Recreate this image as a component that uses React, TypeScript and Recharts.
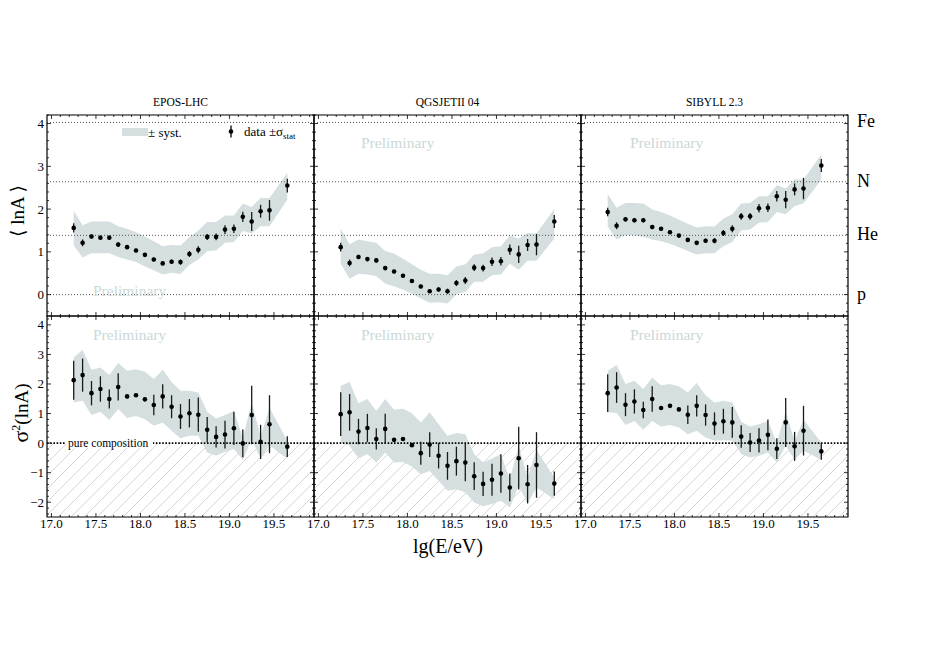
import React from "react";
import {
  ComposedChart,
  Area,
  Scatter,
  ErrorBar,
  XAxis,
  YAxis,
  ReferenceLine,
  ReferenceArea,
} from "recharts";

const FONT = "'Liberation Serif', 'DejaVu Serif', 'Times New Roman', serif";
const BAND = "#d5dfdf";
const PRELIM = "#cbd8d8";

// bin centres, lg(E/eV)
const energy = [
  17.25, 17.35, 17.45, 17.55, 17.65, 17.75, 17.85, 17.95, 18.05, 18.15, 18.25, 18.35,
  18.45, 18.55, 18.65, 18.75, 18.85, 18.95, 19.05, 19.15, 19.25, 19.35, 19.45, 19.65,
];

const models = ["EPOS-LHC", "QGSJETII 04", "SIBYLL 2.3"];

// <lnA>
const eposLnA = [1.56, 1.21, 1.36, 1.33, 1.33, 1.17, 1.11, 1.03, 0.93, 0.82, 0.73, 0.77, 0.76, 0.95, 1.05, 1.35, 1.35, 1.52, 1.54, 1.82, 1.71, 1.95, 1.97, 2.55];
const eposLnAStat = [0.11, 0.08, 0.05, 0.05, 0.05, 0.05, 0.04, 0.04, 0.04, 0.04, 0.04, 0.05, 0.06, 0.07, 0.08, 0.07, 0.08, 0.1, 0.1, 0.12, 0.22, 0.15, 0.24, 0.16];
const eposLnALo = [1.15, 0.87, 0.97, 0.97, 0.97, 0.88, 0.82, 0.76, 0.66, 0.57, 0.47, 0.51, 0.48, 0.69, 0.82, 1.02, 1.03, 1.21, 1.23, 1.49, 1.43, 1.6, 1.6, 2.22];
const eposLnAHi = [1.96, 1.62, 1.71, 1.71, 1.71, 1.6, 1.54, 1.46, 1.36, 1.25, 1.13, 1.16, 1.15, 1.35, 1.5, 1.7, 1.7, 1.85, 1.85, 2.13, 2.05, 2.26, 2.26, 2.85];

const qgsLnA = [1.11, 0.74, 0.88, 0.83, 0.8, 0.62, 0.54, 0.44, 0.32, 0.19, 0.08, 0.12, 0.08, 0.27, 0.33, 0.63, 0.62, 0.77, 0.78, 1.05, 0.94, 1.16, 1.17, 1.71];
const qgsLnAStat = [0.1, 0.08, 0.05, 0.05, 0.05, 0.05, 0.04, 0.04, 0.04, 0.04, 0.04, 0.05, 0.06, 0.07, 0.08, 0.08, 0.08, 0.1, 0.1, 0.12, 0.2, 0.14, 0.25, 0.15];
const qgsLnALo = [0.72, 0.37, 0.49, 0.47, 0.43, 0.26, 0.19, 0.12, 0.02, -0.09, -0.19, -0.18, -0.21, 0.01, 0.06, 0.3, 0.3, 0.45, 0.47, 0.72, 0.58, 0.79, 0.79, 1.31];
const qgsLnAHi = [1.54, 1.18, 1.29, 1.25, 1.21, 1.02, 0.96, 0.84, 0.71, 0.58, 0.49, 0.49, 0.45, 0.66, 0.71, 0.94, 0.96, 1.11, 1.13, 1.38, 1.31, 1.44, 1.43, 2.0];

const sibLnA = [1.93, 1.61, 1.76, 1.74, 1.74, 1.58, 1.54, 1.46, 1.38, 1.28, 1.21, 1.26, 1.26, 1.44, 1.54, 1.83, 1.83, 2.02, 2.03, 2.3, 2.22, 2.46, 2.48, 3.02];
const sibLnAStat = [0.1, 0.08, 0.05, 0.05, 0.05, 0.05, 0.04, 0.04, 0.04, 0.04, 0.04, 0.05, 0.06, 0.07, 0.08, 0.08, 0.08, 0.1, 0.1, 0.12, 0.2, 0.14, 0.25, 0.15];
const sibLnALo = [1.6, 1.29, 1.39, 1.39, 1.35, 1.29, 1.25, 1.19, 1.11, 1.02, 0.94, 0.97, 0.97, 1.13, 1.23, 1.5, 1.52, 1.68, 1.7, 1.93, 1.88, 2.07, 2.13, 2.69];
const sibLnAHi = [2.35, 2.03, 2.14, 2.14, 2.13, 1.99, 1.93, 1.85, 1.75, 1.66, 1.57, 1.6, 1.59, 1.78, 1.88, 2.13, 2.14, 2.3, 2.3, 2.56, 2.48, 2.69, 2.69, 3.28];

// sigma^2(lnA)
const eposVar = [2.13, 2.3, 1.69, 1.83, 1.49, 1.9, 1.58, 1.62, 1.48, 1.29, 1.58, 1.23, 0.9, 1.01, 0.96, 0.45, 0.21, 0.29, 0.5, -0.01, 0.95, 0.04, 0.64, -0.12];
const eposVarStat = [0.66, 0.56, 0.41, 0.43, 0.32, 0.46, 0.06, 0.06, 0.06, 0.35, 0.41, 0.39, 0.42, 0.48, 0.58, 0.43, 0.36, 0.47, 0.56, 0.47, 0.99, 0.58, 0.98, 0.35];
const eposVarLo = [1.37, 1.43, 0.95, 1.06, 0.78, 1.15, 0.85, 0.92, 0.81, 0.59, 0.7, 0.42, 0.16, 0.25, 0.25, -0.32, -0.43, -0.29, -0.2, -0.57, 0.13, -0.52, -0.07, -0.54];
const eposVarHi = [2.9, 3.16, 2.48, 2.56, 2.3, 2.71, 2.45, 2.5, 2.41, 2.17, 2.48, 2.07, 1.77, 1.77, 1.71, 1.06, 0.83, 0.95, 1.09, 0.16, 1.37, 0.22, 1.2, 0.08];

const qgsVar = [0.98, 1.04, 0.39, 0.51, 0.14, 0.48, 0.11, 0.14, -0.07, -0.34, -0.05, -0.43, -0.77, -0.61, -0.66, -1.12, -1.38, -1.24, -1.03, -1.5, -0.51, -1.39, -0.74, -1.37];
const qgsVarStat = [0.74, 0.62, 0.43, 0.48, 0.36, 0.51, 0.06, 0.06, 0.06, 0.39, 0.42, 0.43, 0.47, 0.49, 0.63, 0.47, 0.41, 0.54, 0.65, 0.47, 1.06, 0.65, 1.11, 0.41];
const qgsVarLo = [0.02, -0.09, -0.52, -0.37, -0.66, -0.32, -0.66, -0.64, -0.79, -1.05, -0.94, -1.28, -1.61, -1.56, -1.67, -2.01, -2.14, -2.06, -1.95, -2.18, -1.44, -2.06, -1.5, -1.9];
const qgsVarHi = [1.94, 2.07, 1.35, 1.49, 1.09, 1.49, 1.13, 1.16, 1.01, 0.7, 1.04, 0.64, 0.25, 0.34, 0.3, -0.37, -0.66, -0.52, -0.37, -1.22, -0.09, -1.16, -0.23, -1.16];

const sibVar = [1.69, 1.88, 1.3, 1.41, 1.12, 1.49, 1.19, 1.26, 1.14, 0.96, 1.26, 0.95, 0.66, 0.74, 0.7, 0.22, 0.02, 0.09, 0.28, -0.19, 0.7, -0.11, 0.42, -0.28];
const sibVarStat = [0.64, 0.52, 0.39, 0.41, 0.28, 0.43, 0.06, 0.06, 0.06, 0.31, 0.36, 0.36, 0.38, 0.42, 0.52, 0.38, 0.32, 0.41, 0.52, 0.35, 0.83, 0.49, 0.84, 0.28];
const sibVarLo = [1.04, 1.02, 0.61, 0.75, 0.45, 0.75, 0.56, 0.61, 0.53, 0.3, 0.42, 0.19, 0.08, 0.1, 0.08, -0.37, -0.49, -0.43, -0.32, -0.66, -0.09, -0.56, -0.26, -0.56];
const sibVarHi = [2.45, 2.64, 2.0, 2.11, 1.83, 2.22, 1.96, 2.0, 1.92, 1.71, 2.03, 1.62, 1.37, 1.43, 1.37, 0.72, 0.56, 0.64, 0.75, 0.02, 1.06, 0.08, 0.79, 0.02];

// reference nuclei: lnA of p, He, N, Fe
const elementNames = ["p", "He", "N", "Fe"];
const elementLnA = [0, Math.log(4), Math.log(14), Math.log(56)];

const xMajorTicks = [17.0, 17.5, 18.0, 18.5, 19.0, 19.5];
const lnaMajorTicks = [0, 1, 2, 3, 4];
const varMajorTicks = [-2, -1, 0, 1, 2, 3, 4];

const X_DOMAIN: [number, number] = [16.95, 19.95];
const LNA_DOMAIN: [number, number] = [-0.5, 4.2];
const VAR_DOMAIN: [number, number] = [-2.5, 4.3];

function steps(from: number, to: number, step: number) {
  const out: number[] = [];
  for (let v = from; v <= to + 1e-9; v += step) out.push(Math.round(v * 10) / 10);
  return out;
}
const xTicks = steps(17.0, 19.9, 0.1);
const lnaTicks = steps(-0.4, 4.2, 0.2);
const varTicks = steps(-2.4, 4.2, 0.2);

const panels = [
  [
    { v: eposLnA, e: eposLnAStat, lo: eposLnALo, hi: eposLnAHi },
    { v: qgsLnA, e: qgsLnAStat, lo: qgsLnALo, hi: qgsLnAHi },
    { v: sibLnA, e: sibLnAStat, lo: sibLnALo, hi: sibLnAHi },
  ],
  [
    { v: eposVar, e: eposVarStat, lo: eposVarLo, hi: eposVarHi },
    { v: qgsVar, e: qgsVarStat, lo: qgsVarLo, hi: qgsVarHi },
    { v: sibVar, e: sibVarStat, lo: sibVarLo, hi: sibVarHi },
  ],
];

const PLOT_LEFT = [47, 314, 581];
const PLOT_TOP = [115, 316];
const PW = 267;
const PH = 201;
const ML = 40;
const MR = 44;
const MT = 8;
const MB = 22;

const txt = { fontFamily: FONT };
const near = (a: number, b: number) => Math.abs(a - b) < 1e-6;

function makeXTick(showLabels: boolean) {
  return (props: any) => {
    const { x, y, payload } = props;
    const v = payload.value;
    const major = xMajorTicks.some((t) => near(t, v));
    const len = major ? 4 : 2;
    return (
      <g>
        <line x1={x} x2={x} y1={y} y2={y - len} stroke="#000" strokeWidth={0.8} />
        <line x1={x} x2={x} y1={y - PH} y2={y - PH + len} stroke="#000" strokeWidth={0.8} />
        {showLabels && major && (
          <text x={x} y={y + 11} textAnchor="middle" fontSize={13} style={txt} fill="#000">
            {v.toFixed(1)}
          </text>
        )}
      </g>
    );
  };
}

function makeYTick(majors: number[], showLabels: boolean) {
  return (props: any) => {
    const { x, y, payload } = props;
    const v = payload.value;
    const major = majors.some((t) => near(t, v));
    const len = major ? 4 : 2;
    return (
      <g>
        <line x1={x} x2={x + len} y1={y} y2={y} stroke="#000" strokeWidth={0.8} />
        <line x1={x + PW} x2={x + PW - len} y1={y} y2={y} stroke="#000" strokeWidth={0.8} />
        {showLabels && major && (
          <text x={x - 3} y={y + 4.5} textAnchor="end" fontSize={13} style={txt} fill="#000">
            {v < 0 ? `\u2212${Math.abs(v)}` : v}
          </text>
        )}
      </g>
    );
  };
}

const elementTick = (props: any) => {
  const { x, y, payload } = props;
  const idx = elementLnA.findIndex((t) => near(t, payload.value));
  return (
    <text x={x + 9} y={y + 5} fontSize={18} style={txt} fill="#000">
      {elementNames[idx]}
    </text>
  );
};

const Dot = (props: any) => <circle cx={props.cx} cy={props.cy} r={2.3} fill="#000" />;

const PureLabel = (props: any) => {
  const vb = props.viewBox || {};
  const x = (vb.x ?? 0) + 19;
  const y = vb.y ?? 0;
  return (
    <g>
      <rect x={x} y={y - 5} width={87} height={10} fill="#fff" />
      <text x={x + 2} y={y + 3.5} fontSize={11.5} style={txt} fill="#000">
        pure composition
      </text>
    </g>
  );
};

function Panel({ row, col }: { row: number; col: number }) {
  const p = panels[row][col];
  const rows = energy.map((x, i) => ({ x, y: p.v[i], err: p.e[i], band: [p.lo[i], p.hi[i]] }));
  const yDomain = row === 0 ? LNA_DOMAIN : VAR_DOMAIN;
  const hatchId = `hatch-${col}`;
  const withElements = row === 0 && col === 2;
  return (
    <div style={{ position: "absolute", left: PLOT_LEFT[col] - ML, top: PLOT_TOP[row] - MT }}>
      <ComposedChart
        width={ML + PW + MR}
        height={MT + PH + MB}
        data={rows}
        margin={{ top: MT, right: withElements ? 0 : MR, bottom: 0, left: 0 }}
      >
        <defs>
          <pattern id={hatchId} patternUnits="userSpaceOnUse" width={13} height={13}>
            <path d="M0,13 L13,0 M-3,3 L3,-3 M10,16 L16,10" stroke="#c6c6c6" strokeWidth={0.7} />
          </pattern>
        </defs>
        <XAxis
          dataKey="x"
          type="number"
          domain={X_DOMAIN}
          ticks={xTicks}
          interval={0}
          height={MB}
          tickSize={0}
          tickMargin={0}
          axisLine={false}
          tickLine={false}
          tick={makeXTick(row === 1)}
          allowDataOverflow
        />
        <YAxis
          dataKey="y"
          type="number"
          domain={yDomain}
          ticks={row === 0 ? lnaTicks : varTicks}
          interval={0}
          width={ML}
          tickSize={0}
          tickMargin={0}
          axisLine={false}
          tickLine={false}
          tick={makeYTick(row === 0 ? lnaMajorTicks : varMajorTicks, col === 0)}
          allowDataOverflow
        />
        {withElements && (
          <YAxis
            yAxisId="el"
            orientation="right"
            type="number"
            domain={LNA_DOMAIN}
            ticks={elementLnA}
            interval={0}
            width={MR}
            tickSize={0}
            tickMargin={0}
            axisLine={false}
            tickLine={false}
            tick={elementTick}
            allowDataOverflow
          />
        )}
        {row === 1 && (
          <ReferenceArea
            x1={X_DOMAIN[0]}
            x2={X_DOMAIN[1]}
            y1={VAR_DOMAIN[0]}
            y2={0}
            fill={`url(#${hatchId})`}
            fillOpacity={1}
            stroke="none"
          />
        )}
        <Area
          dataKey="band"
          type="linear"
          stroke="none"
          fill={BAND}
          fillOpacity={1}
          isAnimationActive={false}
        />
        {row === 0 &&
          elementLnA.map((v) => (
            <ReferenceLine key={v} y={v} stroke="#444" strokeWidth={0.9} strokeDasharray="1 2" />
          ))}
        {row === 1 && (
          <ReferenceLine
            y={0}
            stroke="#000"
            strokeWidth={1.8}
            strokeDasharray="1.6 1.6"
            label={col === 0 ? <PureLabel /> : undefined}
          />
        )}
        <Scatter data={rows} dataKey="y" shape={Dot} isAnimationActive={false}>
          <ErrorBar dataKey="err" direction="y" width={0} stroke="#1a1a1a" strokeWidth={1.3} />
        </Scatter>
        <ReferenceArea
          x1={X_DOMAIN[0]}
          x2={X_DOMAIN[1]}
          y1={yDomain[0]}
          y2={yDomain[1]}
          fill="none"
          stroke="#000"
          strokeWidth={1.2}
        />
      </ComposedChart>
    </div>
  );
}

const prelimSpots = [
  { x: 93, y: 296 },
  { x: 361, y: 148 },
  { x: 630, y: 148 },
  { x: 93, y: 340 },
  { x: 361, y: 340 },
  { x: 630, y: 340 },
];

export default function App() {
  return (
    <div
      style={{
        position: "absolute",
        left: 0,
        top: 0,
        width: 926,
        height: 655,
        background: "#fff",
        fontFamily: FONT,
      }}
    >
      {[0, 1].map((r) => [0, 1, 2].map((c) => <Panel key={`${r}-${c}`} row={r} col={c} />))}
      <svg
        width={926}
        height={655}
        style={{ position: "absolute", left: 0, top: 0, pointerEvents: "none", fontFamily: FONT }}
      >
        {models.map((m, i) => (
          <text key={m} x={PLOT_LEFT[i] + PW / 2} y={105.5} textAnchor="middle" fontSize={11.5}>
            {m}
          </text>
        ))}
        {prelimSpots.map((s, i) => (
          <text key={i} x={s.x} y={s.y} fontSize={15.5} fill={PRELIM}>
            Preliminary
          </text>
        ))}
        {/* legend */}
        <rect x={122} y={128} width={26} height={8} fill={BAND} />
        <text x={148} y={137} fontSize={13}>
          ±  syst.
        </text>
        <line x1={231} x2={231} y1={125.5} y2={137.5} stroke="#000" strokeWidth={1.3} />
        <circle cx={231} cy={131.5} r={2.3} fill="#000" />
        <text x={244} y={136} fontSize={13}>
          data ±σ
          <tspan fontSize={9} dy={2.5}>
            stat
          </tspan>
        </text>
        {/* axis titles */}
        <text transform="translate(24,211) rotate(-90)" textAnchor="middle" fontSize={19}>
          ⟨ lnA ⟩
        </text>
        <text transform="translate(28,413) rotate(-90)" textAnchor="middle" fontSize={19}>
          <tspan fontSize={22}>σ</tspan>
          <tspan fontSize={12} dy={-8}>
            2
          </tspan>
          <tspan dy={8}>(lnA)</tspan>
        </text>
        <text x={448} y={553} textAnchor="middle" fontSize={20}>
          lg(E/eV)
        </text>
      </svg>
    </div>
  );
}
